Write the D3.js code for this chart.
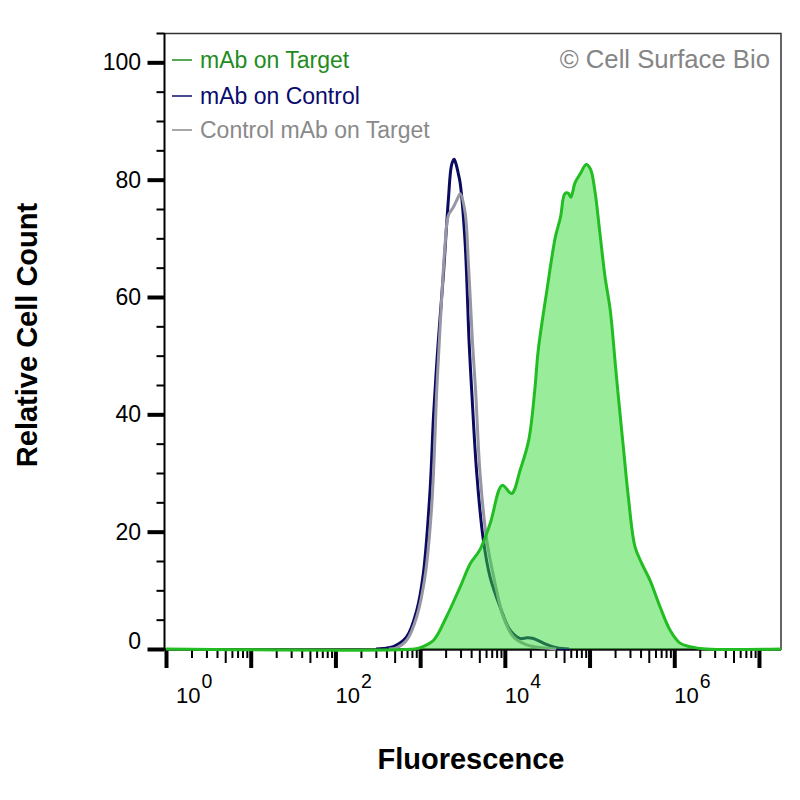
<!DOCTYPE html>
<html>
<head>
<meta charset="utf-8">
<script src="https://cdn.jsdelivr.net/npm/d3@7"></script>
<style>
    body { margin: 0; background: #fff; }
    text { font-family: "Liberation Sans", Arial, sans-serif; }
</style>
</head>
<body>
<div id="chart"></div>
<script>
// series: log10 fluorescence (decades) and relative cell count
const greenLog = [0, 2.936, 2.997, 3.159, 3.311, 3.473, 3.594, 3.705, 3.827, 3.969, 4.080, 4.181, 4.282, 4.353, 4.394, 4.495, 4.596, 4.657, 4.708, 4.748, 4.779, 4.829, 4.890, 4.961, 5.011, 5.062, 5.123, 5.183, 5.244, 5.305, 5.340, 5.399, 5.458, 5.537, 5.616, 5.714, 5.832, 5.951, 6.068, 6.187, 6.378, 7.26];
const greenVal = [0, 0, 0.2, 1.5, 5.5, 10.6, 14.6, 16.9, 21.4, 27.9, 26.5, 30.5, 35.6, 44.1, 50.9, 61.0, 70.2, 73.6, 77.6, 77.7, 77.0, 79.5, 81.0, 82.6, 81.8, 78.2, 70.8, 63.4, 57.8, 48.4, 43.0, 34.4, 25.9, 17.4, 14.6, 11.7, 7.2, 3.2, 1.0, 0.4, 0, 0];

const navyLog = [2.480, 2.565, 2.684, 2.842, 2.960, 3.038, 3.117, 3.159, 3.211, 3.274, 3.333, 3.371, 3.401, 3.427, 3.451, 3.472, 3.530, 3.579, 3.609, 3.668, 3.746, 3.825, 3.943, 4.062, 4.179, 4.262, 4.336, 4.455, 4.612, 4.758];
const navyVal = [0, 0.1, 0.4, 2.1, 6.6, 12.9, 27, 40, 51.8, 63.7, 76.5, 82.5, 83.5, 82.5, 81, 79.5, 69.5, 52, 44, 30, 18.6, 12.3, 7.2, 3.2, 1.8, 1.9, 1.8, 1.0, 0.2, 0];

const greyLog = [2.632, 2.723, 2.842, 2.960, 3.057, 3.136, 3.196, 3.214, 3.255, 3.294, 3.333, 3.392, 3.442, 3.473, 3.530, 3.569, 3.619, 3.655, 3.707, 3.786, 3.885, 3.982, 4.100, 4.258, 4.455, 4.606];
const greyVal = [0, 0.2, 1.5, 5.5, 12.3, 24.2, 44, 49, 60, 68.8, 73.9, 75.3, 76.8, 77.6, 74.5, 66, 52, 44, 30, 18.6, 11.2, 5.5, 2.1, 0.7, 0.2, 0];

const legendLabels = ["mAb on Target", "mAb on Control", "Control mAb on Target"];
const yTickLabels = [0, 20, 40, 60, 80, 100];
const xLabelDecades = [0, 2, 4, 6];

const width = 800;
const height = 800;

const svg = d3.select("#chart")
    .append("svg")
    .attr("width", width)
    .attr("height", height);

svg.append("rect").attr("width", width).attr("height", height).attr("fill", "#fff");

const x = d3.scaleLog()
    .domain([1, Math.pow(10, 7.26)])
    .range([166, 781]);

const y = d3.scaleLinear()
    .domain([0, 105])
    .range([649, 33]);

const toPoints = (logs, vals) => logs.map((l, i) => [Math.pow(10, l), vals[i]]);

const line = d3.line()
    .x(d => x(d[0]))
    .y(d => y(d[1]))
    .curve(d3.curveCatmullRom.alpha(0.5));

const area = d3.area()
    .x(d => x(d[0]))
    .y0(y(0))
    .y1(d => y(d[1]))
    .curve(d3.curveCatmullRom.alpha(0.5));

// frame (top + right)
svg.append("path")
    .attr("d", `M164.5,33.5 H781 V650`)
    .attr("fill", "none")
    .attr("stroke", "#333")
    .attr("stroke-width", 1.5);

// x axis: decades with minor log ticks
const xTicks = [];
for (let k = 0; k < 7; k++) {
    for (let m = 1; m < 10; m++) xTicks.push(m * Math.pow(10, k));
}
xTicks.push(Math.pow(10, 7));

const mant = d => Math.round(d / Math.pow(10, Math.floor(Math.log10(d) + 1e-9)));

const xAxis = svg.append("g")
    .attr("transform", `translate(0,${y(0) + 1})`)
    .call(d3.axisBottom(x).tickValues(xTicks).tickSize(8).tickFormat(""));

xAxis.select(".domain").remove();
xAxis.selectAll(".tick line")
    .attr("stroke", "#000")
    .attr("y2", d => mant(d) === 1 ? 18 : (mant(d) === 5 ? 13 : 8))
    .attr("stroke-width", d => mant(d) === 1 ? 4 : 2);

svg.append("line")
    .attr("x1", 164.5).attr("x2", 781)
    .attr("y1", y(0) + 0.5).attr("y2", y(0) + 0.5)
    .attr("stroke", "#111")
    .attr("stroke-width", 2.5);

const xLab = svg.append("g").selectAll("text")
    .data(xLabelDecades)
    .join("text")
    .attr("x", d => x(Math.pow(10, d)) + (d === 0 ? 10 : 0))
    .attr("y", 702.5)
    .attr("font-size", 22)
    .attr("fill", "#000");
xLab.append("tspan").text("10");
xLab.append("tspan")
    .attr("dy", -15)
    .attr("dx", 1)
    .attr("font-size", 19.5)
    .text(d => d);

// y axis
const yAxis = svg.append("g")
    .attr("transform", "translate(164.5,0)")
    .call(d3.axisLeft(y).tickValues(d3.range(0, 106, 5)).tickSize(8).tickFormat(""));

yAxis.select(".domain")
    .attr("d", `M0,33 V650`)
    .attr("stroke", "#000")
    .attr("stroke-width", 2);
yAxis.selectAll(".tick line")
    .attr("stroke", "#000")
    .attr("x2", d => d % 20 === 0 ? -17 : -8)
    .attr("stroke-width", d => d % 20 === 0 ? 4 : 2);

svg.append("g").selectAll("text")
    .data(yTickLabels)
    .join("text")
    .attr("x", 141)
    .attr("y", d => y(d) + (d === 0 ? 0 : 8))
    .attr("text-anchor", "end")
    .attr("font-size", 23)
    .attr("fill", "#000")
    .text(d => d);

// curves
const navyPts = toPoints(navyLog, navyVal);
const greyPts = toPoints(greyLog, greyVal);
const greenPts = toPoints(greenLog, greenVal);

svg.append("path")
    .datum(navyPts)
    .attr("d", line)
    .attr("fill", "none")
    .attr("stroke", "#0a0a60")
    .attr("stroke-width", 3);

svg.append("path")
    .datum(greyPts)
    .attr("d", line)
    .attr("fill", "none")
    .attr("stroke", "#9696a4")
    .attr("stroke-width", 3);

svg.append("path")
    .datum(greenPts)
    .attr("d", area)
    .attr("fill", "rgb(52,218,52)")
    .attr("fill-opacity", 0.5);

svg.append("path")
    .datum(greenPts)
    .attr("d", line)
    .attr("fill", "none")
    .attr("stroke", "#22bd22")
    .attr("stroke-width", 3);

// legend
const legendColors = ["#1f8c1f", "#0a0a6e", "#8a8a8a"];
const legend = svg.append("g").selectAll("g")
    .data(legendLabels)
    .join("g")
    .attr("transform", (_, i) => `translate(0,${[60, 96, 130][i]})`);

legend.append("line")
    .attr("x1", 172).attr("x2", 192)
    .attr("y1", 0).attr("y2", 0)
    .attr("stroke", (_, i) => legendColors[i])
    .attr("stroke-width", 1.5);

legend.append("text")
    .attr("x", 200)
    .attr("y", 8)
    .attr("font-size", 23)
    .attr("fill", (_, i) => legendColors[i])
    .text(d => d);

svg.append("text")
    .attr("x", 770)
    .attr("y", 68)
    .attr("text-anchor", "end")
    .attr("font-size", 25.7)
    .attr("fill", "#858585")
    .text("\u00A9 Cell Surface Bio");

// axis titles
svg.append("text")
    .attr("transform", "translate(37,335) rotate(-90)")
    .attr("text-anchor", "middle")
    .attr("font-size", 29)
    .attr("font-weight", "bold")
    .text("Relative Cell Count");

svg.append("text")
    .attr("x", 471)
    .attr("y", 769)
    .attr("text-anchor", "middle")
    .attr("font-size", 29)
    .attr("font-weight", "bold")
    .text("Fluorescence");
</script>
</body>
</html>
